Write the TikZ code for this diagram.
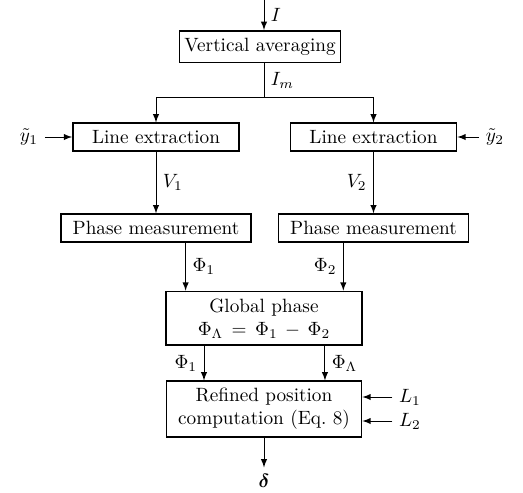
\documentclass[tikz,border=0pt]{standalone}
\usepackage{amsmath}
\usepackage{tikz}
\usetikzlibrary{arrows}
\tikzset{block/.style={draw, thick, align=center, inner xsep=2pt, inner ysep=3.7pt},every edge/.style={draw,-latex}}

\begin{document}
\begin{tikzpicture}[x=0.52pt, y=-0.52pt, line width=0.5pt]
            \useasboundingbox (0,0) rectangle (523,492);
            \coordinate (top) at (264,0);
            \coordinate (split) at (264,97);
            \node[block, minimum width=83.6pt] (avg) at (260,46.5) {Vertical averaging};
            \node[block, minimum width=86.5pt] (ext1) at (156,137) {Line extraction};
            \node[block, minimum width=86.5pt] (ext2) at (373.5,137) {Line extraction};
            \node (y1) at (29,137) {$\tilde{y}_1$};
            \node (y2) at (495,137) {$\tilde{y}_2$};
            \node[block, minimum width=99pt] (ph1) at (156,228) {Phase measurement};
            \node[block, minimum width=99pt] (ph2) at (373.5,228) {Phase measurement};
            \node[block, minimum width=101.9pt] (glob) at (264,318.3) {Global phase\\ $\Phi_\Lambda \,=\, \Phi_1 \,-\, \Phi_2$};
            \node[block, minimum width=101.6pt] (ref) at (264,409) {Refined position\\ computation (Eq.~8)};
            \node (L1) at (410,397) {$L_1$};
            \node (L2) at (410,421) {$L_2$};
            \node (delta) at (264,481) {$\boldsymbol{\delta}$};

            \coordinate (p1) at ([xshift=15.4pt]ph1.south);
            \coordinate (p2) at ([xshift=-15.7pt]ph2.south);
            \coordinate (g1) at ([xshift=-31.2pt]glob.south);
            \coordinate (g2) at ([xshift=31.7pt]glob.south);

            \draw   (top) edge node[right]{$I$} (avg.north -| top)
                    (avg.south -| top) -- node[right]{$I_m$} (split);
            \draw[-latex] (split) -| (ext1);
            \draw[-latex] (split) -| (ext2);
            \draw   (y1) edge (ext1)
                    (y2) edge (ext2)
                    (ext1) edge node[right]{$V_1$} (ph1)
                    (ext2) edge node[left]{$V_2$} (ph2)
                    (p1) edge node[right]{$\Phi_1$} (p1 |- glob.north)
                    (p2) edge node[left]{$\Phi_2$} (p2 |- glob.north)
                    (g1) edge node[left]{$\Phi_1$} (g1 |- ref.north)
                    (g2) edge node[right]{$\Phi_\Lambda$} (g2 |- ref.north)
                    (L1) edge (ref.east |- L1)
                    (L2) edge (ref.east |- L2)
                    (ref) edge (delta);
        \end{tikzpicture}
\end{document}
